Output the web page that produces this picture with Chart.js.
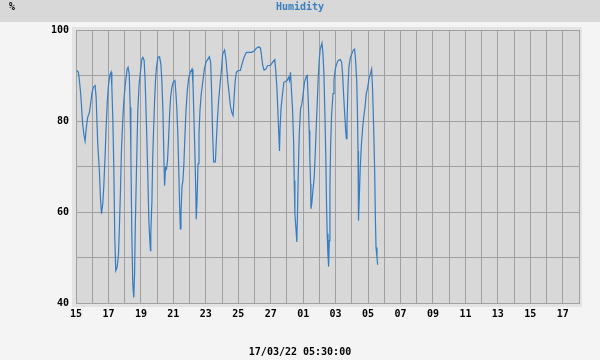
<!DOCTYPE html>
<html>
<head>
<meta charset="utf-8">
<script src="https://cdn.jsdelivr.net/npm/chart.js@4.4.1/dist/chart.umd.min.js"></script>
<style>
  html, body { margin: 0; padding: 0; background: #f4f4f4; }
  #wrap { width: 600px; height: 360px; position: relative; }
</style>
</head>
<body>
<div id="wrap"><canvas id="c" width="600" height="360"></canvas></div>
<script>
// ---- data (x = days since 15 Feb 00:00) ----
const dayOffset = [
  0.04,0.15,0.21,0.29,0.35,0.41,0.50,0.56,0.64,0.72,0.83,0.91,0.99,1.07,1.18,1.24,1.34,1.44,1.51,1.57,
  1.65,1.71,1.79,1.85,1.92,2.00,2.08,2.16,2.21,2.27,2.33,2.39,2.45,2.53,2.62,2.68,2.74,2.80,2.88,2.95,
  3.03,3.09,3.15,3.21,3.28,3.34,3.38,3.44,3.50,3.56,3.61,3.65,3.73,3.81,3.89,3.98,4.06,4.12,4.20,4.26,
  4.35,4.43,4.49,4.55,4.59,4.61,4.68,4.72,4.78,4.84,4.90,4.96,5.05,5.15,5.23,5.29,5.36,5.42,5.46,5.52,
  5.58,5.64,5.71,5.77,5.83,5.91,5.99,6.10,6.16,6.22,6.28,6.34,6.38,6.43,6.47,6.53,6.59,6.65,6.71,6.78,
  6.86,6.94,7.04,7.15,7.21,7.27,7.33,7.39,7.41,7.46,7.52,7.58,7.64,7.72,7.81,7.91,8.01,8.13,8.22,8.30,
  8.36,8.42,8.48,8.59,8.65,8.71,8.79,8.88,8.96,9.04,9.16,9.25,9.35,9.43,9.51,9.60,9.68,9.74,9.80,9.88,
  9.99,10.13,10.23,10.36,10.50,10.65,10.81,10.98,11.12,11.26,11.37,11.43,11.51,11.59,11.70,11.82,11.98,12.11,12.25,12.31,
  12.38,12.44,12.50,12.54,12.58,12.64,12.73,12.81,12.91,13.01,13.10,13.16,13.22,13.28,13.34,13.41,13.45,13.49,13.55,13.61,
  13.65,13.69,13.76,13.84,13.92,14.00,14.08,14.17,14.25,14.31,14.37,14.41,14.46,14.48,14.54,14.60,14.68,14.74,14.81,14.87,
  14.93,14.99,15.05,15.16,15.22,15.28,15.34,15.40,15.44,15.48,15.53,15.57,15.61,15.65,15.69,15.75,15.84,15.90,15.98,16.06,
  16.16,16.29,16.37,16.43,16.49,16.56,16.62,16.66,16.70,16.76,16.82,16.91,16.99,17.09,17.17,17.23,17.30,17.34,17.38,17.40,
  17.42,17.46,17.52,17.59,17.67,17.73,17.81,17.89,17.98,18.06,18.14,18.22,18.28,18.35,18.41,18.45,18.49,18.55,18.59
];
const humidity = [
  91.1,90.7,88.9,86,82.7,79.3,76.7,75.6,78.6,80.8,81.9,84.1,86.3,87.4,87.8,85.2,75,69.1,62.9,59.6,
  61.8,65.5,72.1,77.9,83.7,87.8,90,90.7,87.4,80.4,69.8,54.4,47.1,47.8,50.7,57.3,64.6,73.4,80,84.5,
  87.8,89.6,91.4,91.8,90.3,83,73.4,55.2,44.2,41.2,46.4,55.9,69.8,82.3,88.1,91.1,93.6,94,93.3,88.9,
  78.3,67.6,58.1,53.7,51.5,55.2,62.5,70.6,77.9,84.1,88.9,91.8,94,94.1,92.5,88.9,81.9,71.3,65.8,69.8,
  69.5,71.3,76.4,81.5,85.2,87.4,88.5,88.9,86,82.3,76.4,68.4,62.5,56.3,59.6,65.5,66.9,70.6,76.4,82.3,
  86.7,89.3,90.7,91.4,88.1,80.8,72.7,63.2,58.4,62.5,70.6,77.2,82.3,86,88.5,91.4,92.9,93.6,94.1,92.9,
  86,77.2,71,71,75.7,80,84.5,88.1,91.1,94.7,95.6,93.3,88.9,86.3,83.4,81.9,81.2,84.8,88.4,90.7,
  91.1,91.1,92.5,94,95.1,95.1,95.1,95.4,96,96.3,96,94.4,92.2,91.2,91.4,92.2,92.2,92.9,93.5,91.1,
  87.4,82.3,77.2,73.4,78.6,83,86,88.5,88.7,88.9,89.6,88.9,90.7,86.7,83,75.7,66.9,59.6,56.6,53.4,
  59.6,66.9,77.2,82.7,83.7,86,88.5,89.6,90,84.8,77.9,72,66.2,60.7,62.1,64.7,67.6,72.4,79,84.1,
  89.6,93.3,95.8,97.1,94.7,90.3,81.5,71.3,61.8,55.2,50.4,48,53.7,65.5,74.1,81.2,86,88.9,91.4,92.5,
  93.3,93.5,92.9,90.3,86,81.5,77.9,76.1,79.3,87.4,91.8,94,94.7,95.6,95.8,93.3,88.9,83,73.4,66.5,
  58.1,63.2,69.8,74.8,78.6,80.8,83,86,87.4,89.3,90.3,91.4,86.7,77.9,68.4,58.8,52.2,50,48.4
];
const xTickLabels = ['15','17','19','21','23','25','27','01','03','05','07','09','11','13','15','17'];
const yLabelValues = [40, 60, 80, 100];
const titleText = 'Humidity';
const unitText = '%';
const stampText = '17/03/22 05:30:00';

const points = dayOffset.map((d, i) => ({ x: d, y: humidity[i] }));

const FONT = '"DejaVu Sans Mono", monospace';
const gridColor = '#a0a0a0';

const decor = {
  id: 'decor',
  beforeDraw(chart) {
    const ctx = chart.ctx;
    const a = chart.chartArea;
    ctx.save();
    ctx.fillStyle = '#f4f4f4';
    ctx.fillRect(0, 0, 600, 360);
    ctx.fillStyle = '#d8d8d8';
    ctx.fillRect(0, 0, 600, 22);
    ctx.fillStyle = '#e3e3e3';
    ctx.fillRect(a.left - 4, a.top - 3, a.right - a.left + 7, a.bottom - a.top + 7);
    ctx.fillStyle = '#d8d8d8';
    ctx.fillRect(a.left, a.top, a.right - a.left, a.bottom - a.top);
    ctx.font = 'bold 10px ' + FONT;
    ctx.textBaseline = 'middle';
    ctx.fillStyle = '#000';
    ctx.textAlign = 'left';
    ctx.fillText(unitText, 9, 7);
    ctx.fillStyle = '#3a7fc0';
    ctx.textAlign = 'center';
    ctx.fillText(titleText, 300, 7);
    ctx.fillStyle = '#000';
    ctx.fillText(stampText, 300, 352);
    ctx.restore();
  }
};

new Chart(document.getElementById('c'), {
  type: 'line',
  data: {
    datasets: [{
      data: points,
      borderColor: '#357cc0',
      borderWidth: 1.2,
      pointRadius: 0,
      tension: 0,
      fill: false
    }]
  },
  options: {
    responsive: false,
    animation: false,
    events: [],
    layout: { padding: { left: 0, right: 21, top: 30, bottom: 0 } },
    plugins: { legend: { display: false }, tooltip: { enabled: false }, title: { display: false } },
    scales: {
      x: {
        type: 'linear',
        min: 0, max: 31,
        afterFit(s) { s.height = 57; },
        border: { display: true, color: gridColor, width: 1 },
        grid: { color: gridColor, lineWidth: 1, drawTicks: false },
        ticks: {
          stepSize: 1, autoSkip: false, maxRotation: 0, padding: 5,
          color: '#000', font: { family: FONT, size: 10, weight: 'bold' },
          callback: (v) => (v % 2 === 0 && xTickLabels[v / 2] !== undefined) ? xTickLabels[v / 2] : ''
        }
      },
      y: {
        min: 40, max: 100,
        afterFit(s) { s.width = 76; },
        border: { display: true, color: gridColor, width: 1 },
        grid: { color: gridColor, lineWidth: 1, drawTicks: false },
        ticks: {
          stepSize: 10, padding: 7,
          color: '#000', font: { family: FONT, size: 10, weight: 'bold' },
          callback: (v) => yLabelValues.includes(v) ? String(v) : ''
        }
      }
    }
  },
  plugins: [decor]
});
</script>
</body>
</html>
